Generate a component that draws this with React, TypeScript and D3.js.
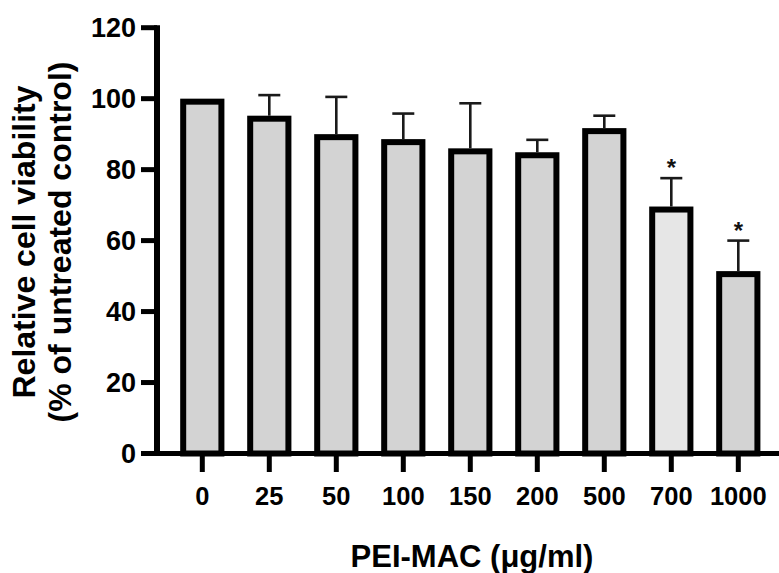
import React from "react";
import * as d3 from "d3";

const categories = ["0", "25", "50", "100", "150", "200", "500", "700", "1000"];
const means = [100, 95.2, 90.0, 88.6, 86.0, 84.9, 91.7, 69.6, 51.4];
const sds = [0, 5.8, 10.5, 7.2, 12.7, 3.5, 3.5, 8.0, 8.6];
const significant = [false, false, false, false, false, false, false, true, true];
const barFills = ["#d3d3d3", "#d3d3d3", "#d3d3d3", "#d3d3d3", "#d3d3d3", "#d3d3d3", "#d3d3d3", "#e6e6e6", "#d3d3d3"];
const yTicks = [0, 20, 40, 60, 80, 100, 120];
const yTitleLines = ["Relative cell viability", "(% of untreated control)"];
const xTitle = "PEI-MAC (\u03bcg/ml)";

const W = 779;
const H = 573;
const FONT = "'Liberation Sans', Arial, Helvetica, sans-serif";

export default function App() {
  const y = d3.scaleLinear().domain([0, 120]).range([453.5, 27.7]);
  const x = d3
    .scaleBand<string>()
    .domain(categories)
    .range([168.8, 771.8])
    .paddingInner(0.34)
    .paddingOuter(0.17);
  const bw = x.bandwidth();
  const sw = 6;
  const axisX = 157;
  const y0 = y(0);

  return (
    <svg
      width={W}
      height={H}
      style={{ position: "absolute", left: 0, top: 0, background: "#fff" }}
      fontFamily={FONT}
    >
      <rect x={0} y={0} width={W} height={H} fill="#fff" />
      {/* bars */}
      {categories.map((c, i) => {
        const bx = x(c) as number;
        const top = y(means[i]);
        return (
          <rect
            key={"b" + c}
            x={bx + sw / 2}
            y={top + sw / 2}
            width={bw - sw}
            height={y0 - top - sw / 2}
            fill={barFills[i]}
            stroke="#000"
            strokeWidth={sw}
          />
        );
      })}
      {/* error bars */}
      {categories.map((c, i) => {
        if (!sds[i]) return null;
        const cx = (x(c) as number) + bw / 2;
        const top = y(means[i]);
        const et = y(means[i] + sds[i]);
        return (
          <g key={"e" + c} stroke="#1a1a1a" strokeWidth={2.6}>
            <line x1={cx} x2={cx} y1={top} y2={et} />
            <line x1={cx - 11} x2={cx + 11} y1={et} y2={et} />
          </g>
        );
      })}
      {/* significance */}
      {categories.map((c, i) => {
        if (!significant[i]) return null;
        const cx = (x(c) as number) + bw / 2;
        const et = y(means[i] + sds[i]);
        return (
          <text
            key={"s" + c}
            x={cx}
            y={et - 2}
            textAnchor="middle"
            fontSize={24}
            fontWeight="bold"
            fill="#111"
          >
            *
          </text>
        );
      })}
      {/* y axis */}
      <line x1={axisX} x2={axisX} y1={y(120) - 2.5} y2={y0} stroke="#000" strokeWidth={6} />
      {yTicks.map((t) => (
        <g key={"yt" + t}>
          <line x1={141} x2={axisX} y1={y(t)} y2={y(t)} stroke="#000" strokeWidth={5} />
          <text
            x={136}
            y={y(t)}
            dy="0.36em"
            textAnchor="end"
            fontSize={27}
            fontWeight="bold"
            fill="#000"
          >
            {t}
          </text>
        </g>
      ))}
      {/* x axis */}
      <line x1={axisX - 3} x2={W} y1={y0} y2={y0} stroke="#000" strokeWidth={5} />
      {categories.map((c) => {
        const cx = (x(c) as number) + bw / 2;
        return (
          <g key={"xt" + c}>
            <line x1={cx} x2={cx} y1={y0} y2={472} stroke="#000" strokeWidth={5} />
            <text x={cx} y={505} textAnchor="middle" fontSize={25.5} fontWeight="bold" fill="#000">
              {c}
            </text>
          </g>
        );
      })}
      {/* titles */}
      <text x={472} y={567} textAnchor="middle" fontSize={31} fontWeight="bold" fill="#000">
        {xTitle}
      </text>
      {yTitleLines.map((l, i) => (
        <text
          key={"yl" + i}
          transform={`translate(${35 + i * 36},242) rotate(-90)`}
          textAnchor="middle"
          fontSize={32}
          fontWeight="bold"
          fill="#000"
        >
          {l}
        </text>
      ))}
    </svg>
  );
}
